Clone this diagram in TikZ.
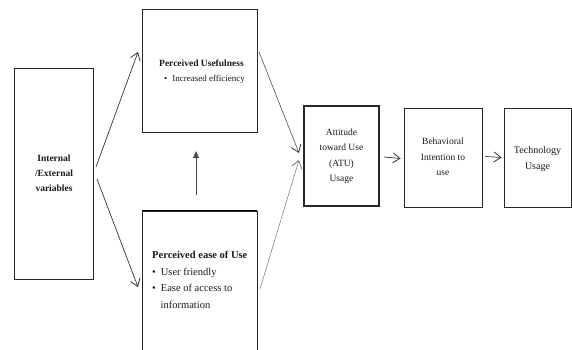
\documentclass[tikz,border=0pt]{standalone}
\usepackage{fontspec}
\setmainfont{Liberation Serif}
\usetikzlibrary{arrows.meta}
\begin{document}
\begin{tikzpicture}[x=1pt,y=-1pt,
  box/.style={draw=black!85,line width=0.8pt,inner sep=0pt},
  txt/.style={inner sep=0pt,text=black!90},
  conn/.style={draw=black!80,line width=0.7pt,-{Straight Barb[length=7pt,width=10pt,line width=0.8pt]}},
  up/.style={draw=black!70,line width=0.8pt,-{Triangle[length=7pt,width=6pt]}}]
\useasboundingbox (0,0) rectangle (572,350);
\begin{scope}
\clip (0,0) rectangle (572,350);
% boxes
\node[box,minimum width=79pt,minimum height=211pt] (ie) at (54,173.5) {};
\node[box,minimum width=115pt,minimum height=123pt] (pu) at (199.5,71) {};
\node[box,minimum width=115pt,minimum height=149pt] (peou) at (199.5,285.5) {};
\draw[black,line width=1.6pt] (peou.north west) -- (peou.north east);
\node[box,line width=1.6pt,minimum width=75pt,minimum height=100pt] (atu) at (341.5,156) {};
\node[box,minimum width=78pt,minimum height=99pt] (bi) at (443,157.5) {};
\node[box,minimum width=67pt,minimum height=99pt] (tu) at (537.5,157.5) {};
\end{scope}
% texts
\node[txt,align=center,font=\fontsize{9.5}{15}\selectfont\bfseries] (ietext) at (54,173) {Internal\\/External\\variables};
\node[txt,anchor=west,font=\fontsize{9.5}{10}\selectfont\bfseries] (putitle) at (159,63) {Perceived Usefulness};
\node[txt,anchor=west,font=\fontsize{9}{10}\selectfont] (puitem) at (164,79) {\textbullet\hspace{5pt}Increased efficiency};
\node[txt,anchor=north west,align=left,font=\fontsize{10.5}{16.5}\selectfont] (peoutext) at (152,251)
  {\textbf{Perceived ease of Use}\\\textbullet\hspace{5pt}User friendly\\\textbullet\hspace{5pt}Ease of access to\\\hspace{8.5pt}information};
\node[txt,align=center,font=\fontsize{9.5}{15.5}\selectfont] (atutext) at (341.5,156) {Attitude\\toward Use\\(ATU)\\Usage};
\node[txt,align=center,font=\fontsize{9.5}{15.5}\selectfont] (bitext) at (443,157) {Behavioral\\Intention to\\use};
\node[txt,align=center,font=\fontsize{10}{15.5}\selectfont] (tutext) at (537.5,159) {Technology\\Usage};
% connector endpoints
\coordinate (ie1) at (96,167);
\coordinate (ie2) at (97,179);
\coordinate (pu1) at (138,52);
\coordinate (peou1) at (138,287);
\coordinate (vup) at (196,195);
\coordinate (vtip) at (196,151);
\coordinate (pus) at (259,52);
\coordinate (atu1) at (299,153);
\coordinate (peous) at (260,289);
\coordinate (atu2) at (299,160);
% connectors
\draw[conn] (ie1) -- (pu1);
\draw[conn] (ie2) -- (peou1);
\draw[up] (vup) -- (vtip);
\draw[conn,line width=0.5pt] (pus) -- (atu1);
\draw[conn,draw=black!55,line width=0.5pt] (peous) -- (atu2);
\draw[conn] (atu.east) ++(4,1) coordinate (a0) -- ([xshift=-3pt,yshift=-1pt]bi.west);
\draw[conn] (bi.east) ++(3,-1) coordinate (b0) -- ([xshift=-2pt]tu.west);
\end{tikzpicture}
\end{document}
